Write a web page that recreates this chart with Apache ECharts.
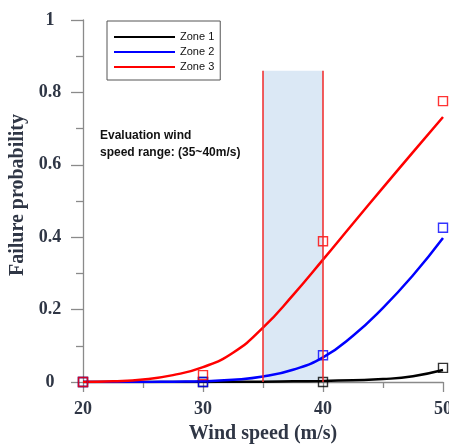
<!DOCTYPE html>
<html>
<head>
<meta charset="utf-8">
<script src="https://cdn.jsdelivr.net/npm/echarts@6/dist/echarts.min.js"></script>
<style>
  html, body { margin: 0; padding: 0; background: #fff; }
  #chart { width: 449px; height: 445px; }
</style>
</head>
<body>
<div id="chart"></div>
<script>
// Observed failure probabilities at the tested wind speeds
var windSpeed = [20, 30, 40, 50];
var zone1Obs = [0, 0, 0, 0.039];
var zone2Obs = [0, 0, 0.074, 0.426];
var zone3Obs = [0, 0.019, 0.389, 0.776];

// Fitted fragility curves
var fitSpeed = [20, 22.5, 25, 27.5, 30, 32.5, 35, 37.5, 40, 42.5, 45, 47.5, 50];
var zone1Fit = [0, 0, 0, 0, 0, 0.001, 0.001, 0.002, 0.003, 0.005, 0.008, 0.016, 0.033];
var zone2Fit = [0, 0, 0, 0.001, 0.002, 0.006, 0.015, 0.034, 0.068, 0.128, 0.205, 0.295, 0.398];
var zone3Fit = [0, 0.002, 0.007, 0.019, 0.041, 0.081, 0.150, 0.240, 0.338, 0.438, 0.537, 0.635, 0.732];

// Evaluation wind speed range
var bandRange = [35, 40];
var bandTop = 0.86;

var zoneNames = ['Zone 1', 'Zone 2', 'Zone 3'];
var zoneColors = ['#000000', '#0000ff', '#ff0000'];

function pairs(xs, ys) {
  return xs.map(function (x, i) { return [x, ys[i]]; });
}

var fits = [zone1Fit, zone2Fit, zone3Fit];
var obs = [zone1Obs, zone2Obs, zone3Obs];

var series = [];
fits.forEach(function (f, i) {
  series.push({
    name: zoneNames[i],
    type: 'line',
    data: pairs(fitSpeed, f),
    smooth: 0.5,
    symbol: 'none',
    lineStyle: { color: zoneColors[i], width: 2.5 },
    itemStyle: { color: zoneColors[i] },
    z: 2
  });
});
obs.forEach(function (o, i) {
  series.push({
    name: zoneNames[i] + ' data',
    type: 'scatter',
    data: pairs(windSpeed, o),
    symbol: 'rect',
    symbolSize: 9,
    itemStyle: { color: 'rgba(255,255,255,0)', borderColor: zoneColors[i], borderWidth: 1.4 },
    z: 3
  });
});

// Shaded evaluation range
series.push({
  name: 'range',
  type: 'line',
  data: [],
  z: 5,
  silent: true,
  markArea: {
    silent: true,
    itemStyle: { color: 'rgba(160,195,228,0.38)' },
    data: [[{ coord: [bandRange[0], 0] }, { coord: [bandRange[1], bandTop] }]]
  }
});
// Bounding lines of the range
series.push({
  name: 'range edges',
  type: 'line',
  data: [],
  z: 6,
  silent: true,
  markLine: {
    silent: true,
    symbol: 'none',
    label: { show: false },
    emphasis: { disabled: true },
    lineStyle: { color: '#f02828', width: 1.5, type: 'solid', opacity: 1 },
    data: bandRange.map(function (b) { return [{ coord: [b, 0] }, { coord: [b, bandTop] }]; })
  }
});

var axisColor = '#8a8a8a';
var textColor = '#2f3645';
var serif = '"Liberation Serif", "Times New Roman", serif';

var chart = echarts.init(document.getElementById('chart'), null, { renderer: 'canvas' });
chart.setOption({
  animation: false,
  backgroundColor: '#ffffff',
  grid: { left: 83, right: 6, top: 20, bottom: 63, containLabel: false, outerBoundsMode: 'none' },
  legend: {
    data: zoneNames.map(function (n, i) {
      return { name: n, icon: 'rect', itemStyle: { color: zoneColors[i] } };
    }),
    orient: 'vertical',
    left: 107,
    top: 21,
    padding: [9, 6, 6, 7],
    itemWidth: 61,
    itemHeight: 2,
    itemGap: 1,
    borderColor: '#555555',
    borderWidth: 1,
    textStyle: { fontFamily: '"Liberation Sans", Arial, sans-serif', fontSize: 11, lineHeight: 14, color: '#111' }
  },
  xAxis: {
    type: 'value',
    min: 20,
    max: 50,
    interval: 10,
    name: 'Wind speed (m/s)',
    nameLocation: 'middle',
    nameGap: 42,
    nameTextStyle: { fontFamily: serif, fontWeight: 'bold', fontSize: 20, color: textColor },
    axisLine: { show: true, lineStyle: { color: axisColor, width: 1.3 } },
    axisTick: { show: true, length: 10, lineStyle: { color: axisColor, width: 1.3 } },
    minorTick: { show: true, splitNumber: 2, length: 6, lineStyle: { color: axisColor, width: 1.3 } },
    splitLine: { show: false },
    axisLabel: { margin: 18, fontFamily: serif, fontWeight: 'bold', fontSize: 18, color: textColor }
  },
  yAxis: {
    type: 'value',
    min: 0,
    max: 1,
    interval: 0.2,
    name: 'Failure probability',
    nameLocation: 'middle',
    nameGap: 54,
    nameTextStyle: { fontFamily: serif, fontWeight: 'bold', fontSize: 20, color: textColor, padding: [0, 0, 0, 12] },
    axisLine: { show: true, lineStyle: { color: axisColor, width: 1.3 } },
    axisTick: { show: true, length: 12, lineStyle: { color: axisColor, width: 1.3 } },
    minorTick: { show: true, splitNumber: 2, length: 7, lineStyle: { color: axisColor, width: 1.3 } },
    splitLine: { show: false },
    axisLabel: { margin: 33, align: 'center', fontFamily: serif, fontWeight: 'bold', fontSize: 18, color: textColor }
  },
  graphic: [{
    type: 'text',
    left: 100,
    top: 127,
    z: 10,
    style: {
      text: 'Evaluation wind\nspeed range: (35~40m/s)',
      font: 'bold 12px "Liberation Sans", Arial, sans-serif',
      lineHeight: 17,
      fill: '#111111'
    }
  }],
  series: series
});
</script>
</body>
</html>
